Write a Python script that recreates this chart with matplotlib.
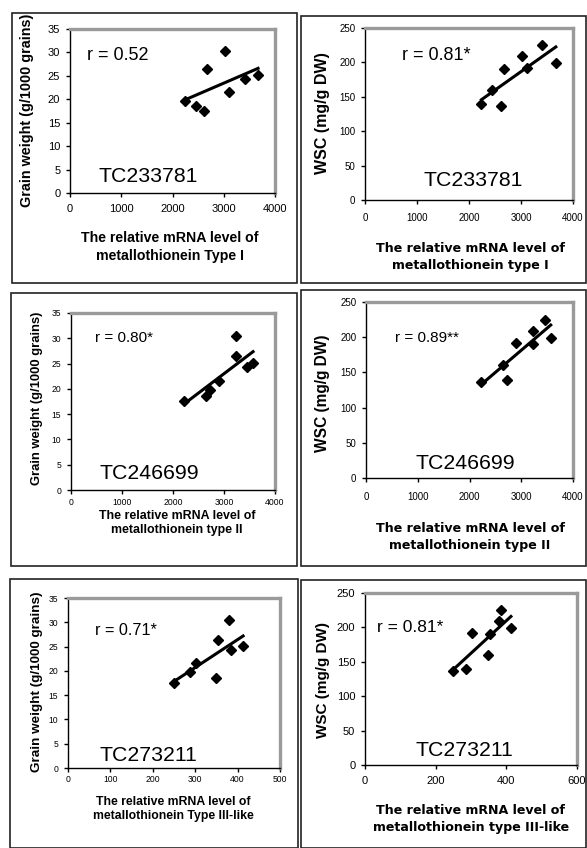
import numpy as np
import matplotlib
matplotlib.use("Agg")
import matplotlib.pyplot as plt
from matplotlib.patches import Rectangle

# ------------------------------------------------------------
# data (8 samples)
# ------------------------------------------------------------
grain_weight = [19.7, 18.6, 17.6, 26.4, 30.4, 21.6, 24.3, 25.2]
wsc = [139, 160, 136, 190, 209, 192, 225, 199]
mt_type1 = [2240, 2450, 2620, 2680, 3025, 3110, 3410, 3670]
mt_type2 = [2730, 2640, 2220, 3230, 3230, 2900, 3455, 3570]
mt_type3 = [287, 349, 250, 353, 380, 302, 384, 413]

r_labels = ["r = 0.52", "r = 0.81*", "r = 0.80*", "r = 0.89**", "r = 0.71*", "r = 0.81*"]
tc_labels = ["TC233781", "TC233781", "TC246699", "TC246699", "TC273211", "TC273211"]
xlab_left = ["The relative mRNA level of\nmetallothionein Type I",
             "The relative mRNA level of\nmetallothionein type II",
             "The relative mRNA level of\nmetallothionein Type III-like"]
xlab_right = ["The relative mRNA level of\nmetallothionein type I",
              "The relative mRNA level of\nmetallothionein type II",
              "The relative mRNA level of\nmetallothionein type III-like"]

W, H = 587, 848
fig = plt.figure(figsize=(W / 100, H / 100), dpi=100)
SANS = "Liberation Sans"
VERD = "DejaVu Sans"


def px_rect(x0, y0, x1, y1):
    # pixel box (top-left origin) -> figure fraction
    return [x0 / W, 1 - y1 / H, (x1 - x0) / W, (y1 - y0) / H]


# panel layout: axes px, frame px, text spots and sizes
panels = [
    dict(x=mt_type1, y=grain_weight, ax=(70, 29, 275, 193), box=(12, 13, 297, 283),
         xlim=4000, xt=[0, 1000, 2000, 3000, 4000], ylim=35, yt=range(0, 36, 5),
         r=(0.083, 0.84), rs=13, tc=(0.137, 0.10), xl=(170, 247), yl=(27, 110),
         ylab="Grain weight (g/1000 grains)", ylsize=10.4, tick=8, pad=4.9,
         xlab=xlab_left[0], xfont=SANS, xsize=10.2, ls=1.4),
    dict(x=mt_type1, y=wsc, ax=(365, 28, 573, 200), box=(301, 16, 586, 283),
         xlim=4000, xt=[0, 1000, 2000, 3000, 4000], ylim=250, yt=range(0, 251, 50),
         r=(0.18, 0.84), rs=13, tc=(0.28, 0.116), xl=(470, 257), yl=(323, 113),
         ylab="WSC (mg/g DW)", ylsize=11.5, tick=7, pad=6.1,
         xlab=xlab_right[0], xfont=VERD, xsize=9.1, ls=1.35),
    dict(x=mt_type2, y=grain_weight, ax=(71, 313, 275, 490), box=(11, 293, 297, 566),
         xlim=4000, xt=[0, 1000, 2000, 3000, 4000], ylim=35, yt=range(0, 36, 5),
         r=(0.118, 0.86), rs=11, tc=(0.142, 0.096), xl=(177, 523), yl=(37, 398),
         ylab="Grain weight (g/1000 grains)", ylsize=9.4, tick=6.2, pad=3,
         xlab=xlab_left[1], xfont=SANS, xsize=8.9, ls=1.3),
    dict(x=mt_type2, y=wsc, ax=(366, 302, 573, 478), box=(301, 290, 586, 566),
         xlim=4000, xt=[0, 1000, 2000, 3000, 4000], ylim=250, yt=range(0, 251, 50),
         r=(0.14, 0.795), rs=11, tc=(0.237, 0.085), xl=(470, 537), yl=(323, 393),
         ylab="WSC (mg/g DW)", ylsize=11.2, tick=7, pad=6.9,
         xlab=xlab_right[1], xfont=VERD, xsize=9.1, ls=1.35),
    dict(x=mt_type3, y=grain_weight, ax=(68, 598, 280, 768), box=(10, 579, 298, 848),
         xlim=500, xt=[0, 100, 200, 300, 400, 500], ylim=35, yt=range(0, 36, 5),
         r=(0.127, 0.81), rs=11.7, tc=(0.15, 0.076), xl=(173, 809), yl=(37, 682),
         ylab="Grain weight (g/1000 grains)", ylsize=9.7, tick=6.2, pad=2.3,
         xlab=xlab_left[2], xfont=SANS, xsize=8.8, ls=1.3),
    dict(x=mt_type3, y=wsc, ax=(365, 593, 577, 765), box=(301, 580, 586, 848),
         xlim=600, xt=[0, 200, 400, 600], ylim=250, yt=range(0, 251, 50),
         r=(0.057, 0.80), rs=12.5, tc=(0.236, 0.087), xl=(471, 819), yl=(323, 680),
         ylab="WSC (mg/g DW)", ylsize=11, tick=8, pad=4.9,
         xlab=xlab_right[2], xfont=VERD, xsize=9.1, ls=1.35),
]

for i, p in enumerate(panels):
    # outer frame of each panel
    bx0, by0, bx1, by1 = p["box"]
    fig.patches.append(Rectangle((bx0 / W, 1 - by1 / H), (bx1 - bx0) / W, (by1 - by0) / H,
                                 transform=fig.transFigure, fill=False,
                                 edgecolor="#222222", lw=1.2))

    ax = fig.add_axes(px_rect(*p["ax"]))
    x = np.array(p["x"], dtype=float)
    y = np.array(p["y"], dtype=float)
    ax.plot(x, y, "D", color="black", ms=5.5)
    k, b = np.polyfit(x, y, 1)
    xs = np.array([x.min(), x.max()])
    ax.plot(xs, k * xs + b, color="black", lw=2.2)

    ax.set_xlim(0, p["xlim"])
    ax.set_ylim(0, p["ylim"])
    ax.set_xticks(p["xt"])
    ax.set_yticks(list(p["yt"]))
    for s in ["top", "right"]:
        ax.spines[s].set_color("#9a9a9a")
        ax.spines[s].set_linewidth(2.4)
    for s in ["left", "bottom"]:
        ax.spines[s].set_color("black")
        ax.spines[s].set_linewidth(1.0)
    ax.tick_params(direction="out", length=3, width=1, labelsize=p["tick"], pad=4)
    ax.tick_params(axis="x", pad=p["pad"])
    for lab in ax.get_xticklabels() + ax.get_yticklabels():
        lab.set_family(SANS)

    ax.text(p["r"][0], p["r"][1], r_labels[i], transform=ax.transAxes,
            fontsize=p["rs"], family=SANS, va="center", ha="left")
    ax.text(p["tc"][0], p["tc"][1], tc_labels[i], transform=ax.transAxes,
            fontsize=15.3, family=SANS, va="center", ha="left")

    fig.text(p["yl"][0] / W, 1 - p["yl"][1] / H, p["ylab"], rotation=90,
             ha="center", va="center", fontsize=p["ylsize"], fontweight="bold", family=SANS)
    fig.text(p["xl"][0] / W, 1 - p["xl"][1] / H, p["xlab"], ha="center", va="center",
             fontsize=p["xsize"], fontweight="bold", family=p["xfont"], linespacing=p["ls"])

fig.savefig("out.png", dpi=100)
